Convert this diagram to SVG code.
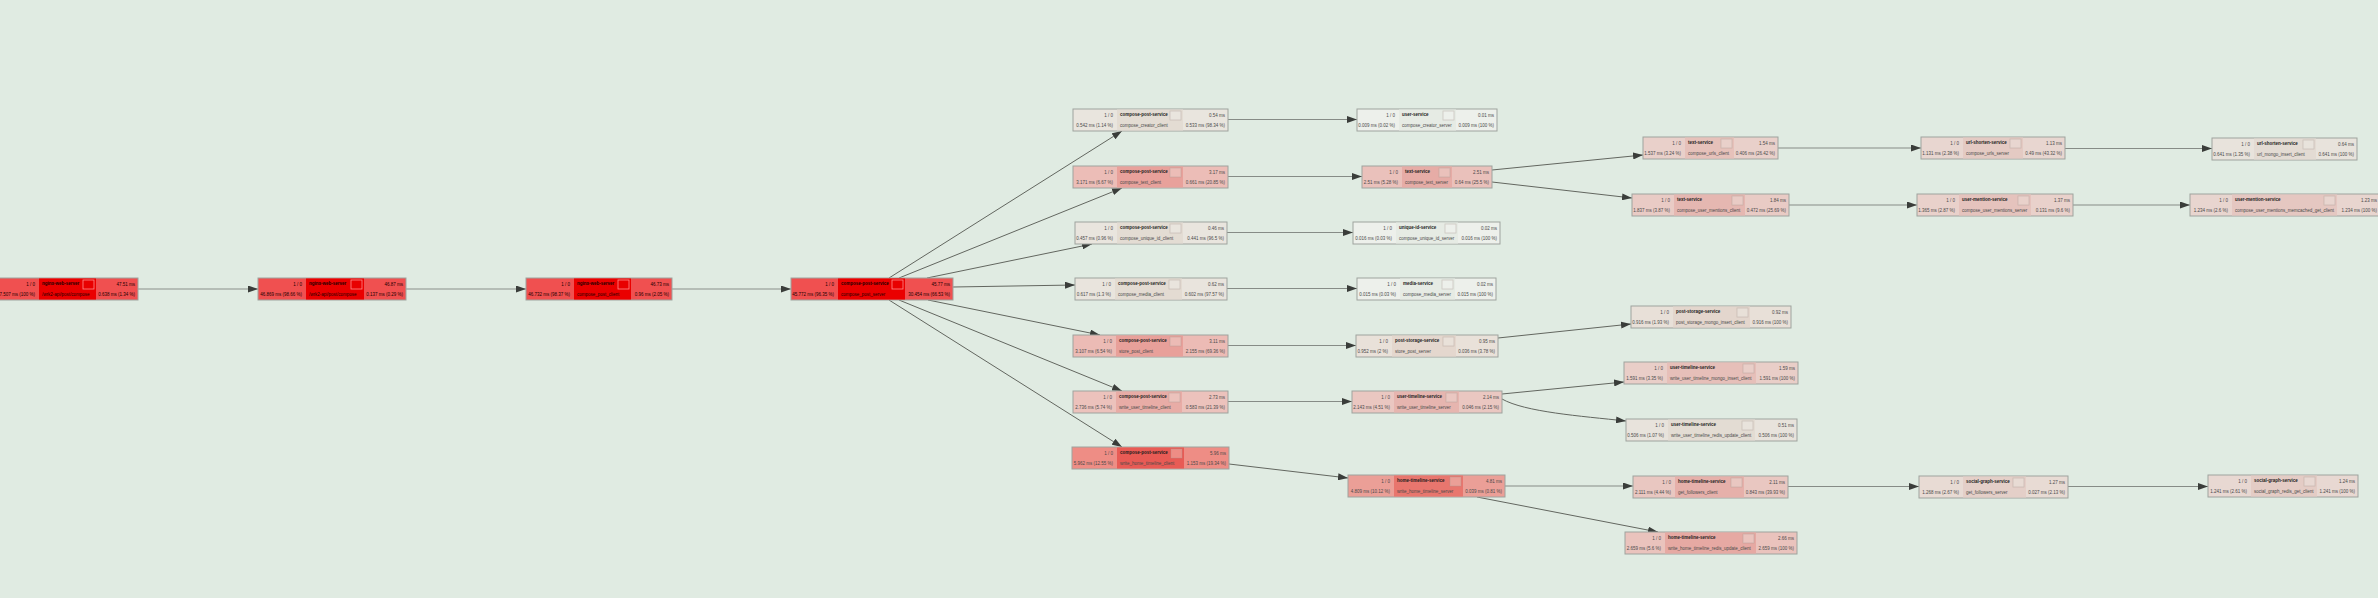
<svg xmlns="http://www.w3.org/2000/svg" width="2378" height="598" viewBox="0 0 2378 598">
<style>
text{font-family:"Liberation Sans",Arial,sans-serif;font-size:4.5px;fill:#4a4a4a}
.b{font-weight:bold;fill:#1c1c1c}
.e{text-anchor:end}
.red text{fill:#1a0000}
.box{stroke:#9ea39e;stroke-width:1}
.ic{stroke:#a89890;stroke-opacity:.45;stroke-width:.8}
.icr{fill:#e80000;stroke:#ff8a8a;stroke-width:.8}
.ed{fill:none;stroke:#62665f;stroke-width:1}
.hz{fill:none;stroke:#868b86;stroke-width:1.2}
.mn{fill:none;stroke:#a7aea7;stroke-width:1.6}
</style>
<defs>
<marker id="ar" markerUnits="userSpaceOnUse" markerWidth="10" markerHeight="7" refX="10" refY="3.5" orient="auto">
<path d="M0,0 L10,3.5 L0,7 z" fill="#3a3d3a"/>
</marker>
</defs>
<rect x="0" y="0" width="2378" height="598" fill="#e0ebe2"/>
<g id="connectors">
<path class="mn" marker-end="url(#ar)" d="M138,289 L258,289"/>
<path class="mn" marker-end="url(#ar)" d="M406,289 L526,289"/>
<path class="mn" marker-end="url(#ar)" d="M672,289 L791,289"/>
<path class="ed" marker-end="url(#ar)" d="M889,278 L1122,131"/>
<path class="ed" marker-end="url(#ar)" d="M899,278 L1122,188"/>
<path class="ed" marker-end="url(#ar)" d="M927,278 L1092,244"/>
<path class="ed" marker-end="url(#ar)" d="M953,287 L1075,285"/>
<path class="ed" marker-end="url(#ar)" d="M928,300 L1100,335"/>
<path class="ed" marker-end="url(#ar)" d="M899,300 L1122,391"/>
<path class="ed" marker-end="url(#ar)" d="M889,300 L1122,447"/>
<path class="hz" marker-end="url(#ar)" d="M1228,119.5 L1357,119.5"/>
<path class="hz" marker-end="url(#ar)" d="M1228,176.5 L1362,176.5"/>
<path class="hz" marker-end="url(#ar)" d="M1227,232.5 L1353,232.5"/>
<path class="hz" marker-end="url(#ar)" d="M1227,288.5 L1357,288.5"/>
<path class="hz" marker-end="url(#ar)" d="M1228,345.5 L1356,345.5"/>
<path class="hz" marker-end="url(#ar)" d="M1228,401.5 L1352,401.5"/>
<path class="ed" marker-end="url(#ar)" d="M1229,464 L1348,478"/>
<path class="ed" marker-end="url(#ar)" d="M1492,170 L1643,155"/>
<path class="ed" marker-end="url(#ar)" d="M1492,182 L1632,198"/>
<path class="hz" marker-end="url(#ar)" d="M1778,148 L1921,148"/>
<path class="hz" marker-end="url(#ar)" d="M1789,205 L1917,205"/>
<path class="hz" marker-end="url(#ar)" d="M2065,148.5 L2212,148.5"/>
<path class="hz" marker-end="url(#ar)" d="M2073,205 L2190,205"/>
<path class="ed" marker-end="url(#ar)" d="M1498,338 L1631,324"/>
<path class="ed" marker-end="url(#ar)" d="M1502,394 L1624,382"/>
<path class="ed" marker-end="url(#ar)" d="M1502,399 C1525,412 1580,416 1626,421"/>
<path class="hz" marker-end="url(#ar)" d="M1505,486 L1633,486"/>
<path class="ed" marker-end="url(#ar)" d="M1477,497 L1658,532"/>
<path class="hz" marker-end="url(#ar)" d="M1788,486.5 L1919,486.5"/>
<path class="hz" marker-end="url(#ar)" d="M2068,486.5 L2208,486.5"/>
</g>

<g id="n-nginx-1" class="red">
<rect class="box" x="-10" y="278" width="148" height="22" fill="#f05050"/>
<rect x="39" y="278.5" width="57" height="21" fill="#ea0000"/>
<rect class="icr" x="83" y="280" width="11" height="9"/>
<text class="e" x="35" y="286">1 / 0</text><text class="b" x="42" y="285.3">nginx-web-server</text><text class="e" x="135" y="286">47.51 ms</text>
<text class="e" x="35" y="296.2">47.507 ms (100 %)</text><text x="42" y="296.2">/wrk2-api/post/compose</text><text class="e" x="135" y="296.2">0.638 ms (1.34 %)</text>
</g>
<g id="n-nginx-2" class="red">
<rect class="box" x="258" y="278" width="148" height="22" fill="#f05050"/>
<rect x="306" y="278.5" width="58" height="21" fill="#ea0000"/>
<rect class="icr" x="351" y="280" width="11" height="9"/>
<text class="e" x="302" y="286">1 / 0</text><text class="b" x="309" y="285.3">nginx-web-server</text><text class="e" x="403" y="286">46.87 ms</text>
<text class="e" x="302" y="296.2">46.869 ms (98.66 %)</text><text x="309" y="296.2">/wrk2-api/post/compose</text><text class="e" x="403" y="296.2">0.137 ms (0.29 %)</text>
</g>
<g id="n-nginx-3" class="red">
<rect class="box" x="526" y="278" width="146" height="22" fill="#f05050"/>
<rect x="574" y="278.5" width="57" height="21" fill="#ea0000"/>
<rect class="icr" x="618" y="280" width="11" height="9"/>
<text class="e" x="570" y="286">1 / 0</text><text class="b" x="577" y="285.3">nginx-web-server</text><text class="e" x="669" y="286">46.73 ms</text>
<text class="e" x="570" y="296.2">46.732 ms (98.37 %)</text><text x="577" y="296.2">compose_post_client</text><text class="e" x="669" y="296.2">0.96 ms (2.05 %)</text>
</g>
<g id="n-cps-server" class="red">
<rect class="box" x="791" y="278" width="162" height="22" fill="#f05050"/>
<rect x="838" y="278.5" width="67" height="21" fill="#ea0000"/>
<rect class="icr" x="892" y="280" width="11" height="9"/>
<text class="e" x="834" y="286">1 / 0</text><text class="b" x="841" y="285.3">compose-post-service</text><text class="e" x="950" y="286">45.77 ms</text>
<text class="e" x="834" y="296.2">45.772 ms (96.35 %)</text><text x="841" y="296.2">compose_post_server</text><text class="e" x="950" y="296.2">30.454 ms (66.53 %)</text>
</g>

<g id="n-cps-creator">
<rect class="box" x="1073" y="109" width="155" height="22" fill="#e9e5de"/>
<rect x="1117" y="109.5" width="66" height="21" fill="#e3dcd3"/>
<rect class="ic" x="1170" y="111" width="11" height="9" fill="#e9e5de"/>
<text class="e" x="1113" y="117">1 / 0</text><text class="b" x="1120" y="116.3">compose-post-service</text><text class="e" x="1225" y="117">0.54 ms</text>
<text class="e" x="1113" y="127.2">0.542 ms (1.14 %)</text><text x="1120" y="127.2">compose_creator_client</text><text class="e" x="1225" y="127.2">0.533 ms (98.34 %)</text>
</g>
<g id="n-cps-text">
<rect class="box" x="1073" y="166" width="155" height="22" fill="#ecbdb7"/>
<rect x="1117" y="166.5" width="66" height="21" fill="#e8a19b"/>
<rect class="ic" x="1170" y="168" width="11" height="9" fill="#ecbdb7"/>
<text class="e" x="1113" y="174">1 / 0</text><text class="b" x="1120" y="173.3">compose-post-service</text><text class="e" x="1225" y="174">3.17 ms</text>
<text class="e" x="1113" y="184.2">3.171 ms (6.67 %)</text><text x="1120" y="184.2">compose_text_client</text><text class="e" x="1225" y="184.2">0.661 ms (20.85 %)</text>
</g>
<g id="n-cps-uid">
<rect class="box" x="1075" y="222" width="152" height="22" fill="#e9e5de"/>
<rect x="1117" y="222.5" width="66" height="21" fill="#e3dcd3"/>
<rect class="ic" x="1170" y="224" width="11" height="9" fill="#e9e5de"/>
<text class="e" x="1113" y="230">1 / 0</text><text class="b" x="1120" y="229.3">compose-post-service</text><text class="e" x="1224" y="230">0.46 ms</text>
<text class="e" x="1113" y="240.2">0.457 ms (0.96 %)</text><text x="1120" y="240.2">compose_unique_id_client</text><text class="e" x="1224" y="240.2">0.441 ms (96.5 %)</text>
</g>
<g id="n-cps-media">
<rect class="box" x="1075" y="278" width="152" height="22" fill="#e9e4dd"/>
<rect x="1115" y="278.5" width="67" height="21" fill="#e3dbd2"/>
<rect class="ic" x="1169" y="280" width="11" height="9" fill="#e9e4dd"/>
<text class="e" x="1111" y="286">1 / 0</text><text class="b" x="1118" y="285.3">compose-post-service</text><text class="e" x="1224" y="286">0.62 ms</text>
<text class="e" x="1111" y="296.2">0.617 ms (1.3 %)</text><text x="1118" y="296.2">compose_media_client</text><text class="e" x="1224" y="296.2">0.602 ms (97.57 %)</text>
</g>
<g id="n-cps-store">
<rect class="box" x="1073" y="335" width="155" height="22" fill="#ecbbb5"/>
<rect x="1116" y="335.5" width="67" height="21" fill="#e8a09a"/>
<rect class="ic" x="1170" y="337" width="11" height="9" fill="#ecbbb5"/>
<text class="e" x="1112" y="343">1 / 0</text><text class="b" x="1119" y="342.3">compose-post-service</text><text class="e" x="1225" y="343">3.11 ms</text>
<text class="e" x="1112" y="353.2">3.107 ms (6.54 %)</text><text x="1119" y="353.2">store_post_client</text><text class="e" x="1225" y="353.2">2.155 ms (69.36 %)</text>
</g>
<g id="n-cps-utl">
<rect class="box" x="1073" y="391" width="155" height="22" fill="#ecc2bc"/>
<rect x="1116" y="391.5" width="66" height="21" fill="#e8aca6"/>
<rect class="ic" x="1169" y="393" width="11" height="9" fill="#ecc2bc"/>
<text class="e" x="1112" y="399">1 / 0</text><text class="b" x="1119" y="398.3">compose-post-service</text><text class="e" x="1225" y="399">2.73 ms</text>
<text class="e" x="1112" y="409.2">2.736 ms (5.74 %)</text><text x="1119" y="409.2">write_user_timeline_client</text><text class="e" x="1225" y="409.2">0.583 ms (21.39 %)</text>
</g>
<g id="n-cps-htl">
<rect class="box" x="1072" y="447" width="157" height="22" fill="#ee8d85"/>
<rect x="1117" y="447.5" width="67" height="21" fill="#e85b55"/>
<rect class="ic" x="1171" y="449" width="11" height="9" fill="#ee8d85"/>
<text class="e" x="1113" y="455">1 / 0</text><text class="b" x="1120" y="454.3">compose-post-service</text><text class="e" x="1226" y="455">5.96 ms</text>
<text class="e" x="1113" y="465.2">5.962 ms (12.55 %)</text><text x="1120" y="465.2">write_home_timeline_client</text><text class="e" x="1226" y="465.2">1.153 ms (19.34 %)</text>
</g>

<g id="n-user">
<rect class="box" x="1357" y="109" width="140" height="22" fill="#edf0eb"/>
<rect x="1399" y="109.5" width="57" height="21" fill="#e6ebe4"/>
<rect class="ic" x="1443" y="111" width="11" height="9" fill="#edf0eb"/>
<text class="e" x="1395" y="117">1 / 0</text><text class="b" x="1402" y="116.3">user-service</text><text class="e" x="1494" y="117">0.01 ms</text>
<text class="e" x="1395" y="127.2">0.009 ms (0.02 %)</text><text x="1402" y="127.2">compose_creator_server</text><text class="e" x="1494" y="127.2">0.009 ms (100 %)</text>
</g>
<g id="n-text-server">
<rect class="box" x="1362" y="166" width="130" height="22" fill="#eac1bb"/>
<rect x="1402" y="166.5" width="50" height="21" fill="#e6aca6"/>
<rect class="ic" x="1439" y="168" width="11" height="9" fill="#eac1bb"/>
<text class="e" x="1398" y="174">1 / 0</text><text class="b" x="1405" y="173.3">text-service</text><text class="e" x="1489" y="174">2.51 ms</text>
<text class="e" x="1398" y="184.2">2.51 ms (5.28 %)</text><text x="1405" y="184.2">compose_text_server</text><text class="e" x="1489" y="184.2">0.64 ms (25.5 %)</text>
</g>
<g id="n-uid">
<rect class="box" x="1353" y="222" width="147" height="22" fill="#edf0eb"/>
<rect x="1396" y="222.5" width="62" height="21" fill="#e6ebe4"/>
<rect class="ic" x="1445" y="224" width="11" height="9" fill="#edf0eb"/>
<text class="e" x="1392" y="230">1 / 0</text><text class="b" x="1399" y="229.3">unique-id-service</text><text class="e" x="1497" y="230">0.02 ms</text>
<text class="e" x="1392" y="240.2">0.016 ms (0.03 %)</text><text x="1399" y="240.2">compose_unique_id_server</text><text class="e" x="1497" y="240.2">0.016 ms (100 %)</text>
</g>
<g id="n-media">
<rect class="box" x="1357" y="278" width="139" height="22" fill="#edf0eb"/>
<rect x="1400" y="278.5" width="55" height="21" fill="#e6ebe4"/>
<rect class="ic" x="1442" y="280" width="11" height="9" fill="#edf0eb"/>
<text class="e" x="1396" y="286">1 / 0</text><text class="b" x="1403" y="285.3">media-service</text><text class="e" x="1493" y="286">0.02 ms</text>
<text class="e" x="1396" y="296.2">0.015 ms (0.03 %)</text><text x="1403" y="296.2">compose_media_server</text><text class="e" x="1493" y="296.2">0.015 ms (100 %)</text>
</g>
<g id="n-ps-server">
<rect class="box" x="1356" y="335" width="142" height="22" fill="#e9e1d9"/>
<rect x="1392" y="335.5" width="64" height="21" fill="#e4d7ce"/>
<rect class="ic" x="1443" y="337" width="11" height="9" fill="#e9e1d9"/>
<text class="e" x="1388" y="343">1 / 0</text><text class="b" x="1395" y="342.3">post-storage-service</text><text class="e" x="1495" y="343">0.95 ms</text>
<text class="e" x="1388" y="353.2">0.952 ms (2 %)</text><text x="1395" y="353.2">store_post_server</text><text class="e" x="1495" y="353.2">0.036 ms (3.78 %)</text>
</g>
<g id="n-utl-server">
<rect class="box" x="1352" y="391" width="150" height="22" fill="#eac7c1"/>
<rect x="1394" y="391.5" width="65" height="21" fill="#e6b5af"/>
<rect class="ic" x="1446" y="393" width="11" height="9" fill="#eac7c1"/>
<text class="e" x="1390" y="399">1 / 0</text><text class="b" x="1397" y="398.3">user-timeline-service</text><text class="e" x="1499" y="399">2.14 ms</text>
<text class="e" x="1390" y="409.2">2.143 ms (4.51 %)</text><text x="1397" y="409.2">write_user_timeline_server</text><text class="e" x="1499" y="409.2">0.046 ms (2.15 %)</text>
</g>
<g id="n-htl-server">
<rect class="box" x="1348" y="475" width="157" height="22" fill="#eb9f97"/>
<rect x="1394" y="475.5" width="69" height="21" fill="#e8766e"/>
<rect class="ic" x="1450" y="477" width="11" height="9" fill="#eb9f97"/>
<text class="e" x="1390" y="483">1 / 0</text><text class="b" x="1397" y="482.3">home-timeline-service</text><text class="e" x="1502" y="483">4.81 ms</text>
<text class="e" x="1390" y="493.2">4.809 ms (10.12 %)</text><text x="1397" y="493.2">write_home_timeline_server</text><text class="e" x="1502" y="493.2">0.039 ms (0.81 %)</text>
</g>

<g id="n-text-urls">
<rect class="box" x="1643" y="137" width="135" height="22" fill="#e9d0ca"/>
<rect x="1685" y="137.5" width="49" height="21" fill="#e6c1ba"/>
<rect class="ic" x="1721" y="139" width="11" height="9" fill="#e9d0ca"/>
<text class="e" x="1681" y="145">1 / 0</text><text class="b" x="1688" y="144.3">text-service</text><text class="e" x="1775" y="145">1.54 ms</text>
<text class="e" x="1681" y="155.2">1.537 ms (3.24 %)</text><text x="1688" y="155.2">compose_urls_client</text><text class="e" x="1775" y="155.2">0.406 ms (26.42 %)</text>
</g>
<g id="n-text-um">
<rect class="box" x="1632" y="194" width="157" height="22" fill="#e9cbc5"/>
<rect x="1674" y="194.5" width="71" height="21" fill="#e5b7b1"/>
<rect class="ic" x="1732" y="196" width="11" height="9" fill="#e9cbc5"/>
<text class="e" x="1670" y="202">1 / 0</text><text class="b" x="1677" y="201.3">text-service</text><text class="e" x="1786" y="202">1.84 ms</text>
<text class="e" x="1670" y="212.2">1.837 ms (3.87 %)</text><text x="1677" y="212.2">compose_user_mentions_client</text><text class="e" x="1786" y="212.2">0.472 ms (25.69 %)</text>
</g>
<g id="n-ps-mongo">
<rect class="box" x="1631" y="306" width="160" height="22" fill="#e8e0d8"/>
<rect x="1673" y="306.5" width="77" height="21" fill="#e3d6cd"/>
<rect class="ic" x="1737" y="308" width="11" height="9" fill="#e8e0d8"/>
<text class="e" x="1669" y="314">1 / 0</text><text class="b" x="1676" y="313.3">post-storage-service</text><text class="e" x="1788" y="314">0.92 ms</text>
<text class="e" x="1669" y="324.2">0.916 ms (1.93 %)</text><text x="1676" y="324.2">post_storage_mongo_insert_client</text><text class="e" x="1788" y="324.2">0.916 ms (100 %)</text>
</g>
<g id="n-utl-mongo">
<rect class="box" x="1624" y="362" width="174" height="22" fill="#e9cec8"/>
<rect x="1667" y="362.5" width="89" height="21" fill="#e6bfb9"/>
<rect class="ic" x="1743" y="364" width="11" height="9" fill="#e9cec8"/>
<text class="e" x="1663" y="370">1 / 0</text><text class="b" x="1670" y="369.3">user-timeline-service</text><text class="e" x="1795" y="370">1.59 ms</text>
<text class="e" x="1663" y="380.2">1.591 ms (3.35 %)</text><text x="1670" y="380.2">write_user_timeline_mongo_insert_client</text><text class="e" x="1795" y="380.2">1.591 ms (100 %)</text>
</g>
<g id="n-utl-redis">
<rect class="box" x="1626" y="419" width="171" height="22" fill="#e8e3dc"/>
<rect x="1668" y="419.5" width="87" height="21" fill="#e3dcd3"/>
<rect class="ic" x="1742" y="421" width="11" height="9" fill="#e8e3dc"/>
<text class="e" x="1664" y="427">1 / 0</text><text class="b" x="1671" y="426.3">user-timeline-service</text><text class="e" x="1794" y="427">0.51 ms</text>
<text class="e" x="1664" y="437.2">0.506 ms (1.07 %)</text><text x="1671" y="437.2">write_user_timeline_redis_update_client</text><text class="e" x="1794" y="437.2">0.506 ms (100 %)</text>
</g>
<g id="n-htl-followers">
<rect class="box" x="1633" y="476" width="155" height="22" fill="#e9c7c1"/>
<rect x="1675" y="476.5" width="69" height="21" fill="#e6b0aa"/>
<rect class="ic" x="1731" y="478" width="11" height="9" fill="#e9c7c1"/>
<text class="e" x="1671" y="484">1 / 0</text><text class="b" x="1678" y="483.3">home-timeline-service</text><text class="e" x="1785" y="484">2.11 ms</text>
<text class="e" x="1671" y="494.2">2.111 ms (4.44 %)</text><text x="1678" y="494.2">get_followers_client</text><text class="e" x="1785" y="494.2">0.843 ms (39.93 %)</text>
</g>
<g id="n-htl-redis">
<rect class="box" x="1625" y="532" width="172" height="22" fill="#eac3bd"/>
<rect x="1665" y="532.5" width="91" height="21" fill="#e6a9a3"/>
<rect class="ic" x="1743" y="534" width="11" height="9" fill="#eac3bd"/>
<text class="e" x="1661" y="540">1 / 0</text><text class="b" x="1668" y="539.3">home-timeline-service</text><text class="e" x="1794" y="540">2.66 ms</text>
<text class="e" x="1661" y="550.2">2.659 ms (5.6 %)</text><text x="1668" y="550.2">write_home_timeline_redis_update_client</text><text class="e" x="1794" y="550.2">2.659 ms (100 %)</text>
</g>

<g id="n-url-server">
<rect class="box" x="1921" y="137" width="144" height="22" fill="#e8d6d0"/>
<rect x="1963" y="137.5" width="60" height="21" fill="#e4cac3"/>
<rect class="ic" x="2010" y="139" width="11" height="9" fill="#e8d6d0"/>
<text class="e" x="1959" y="145">1 / 0</text><text class="b" x="1966" y="144.3">url-shorten-service</text><text class="e" x="2062" y="145">1.13 ms</text>
<text class="e" x="1959" y="155.2">1.131 ms (2.38 %)</text><text x="1966" y="155.2">compose_urls_server</text><text class="e" x="2062" y="155.2">0.49 ms (43.32 %)</text>
</g>
<g id="n-um-server">
<rect class="box" x="1917" y="194" width="156" height="22" fill="#e9d1cb"/>
<rect x="1959" y="194.5" width="72" height="21" fill="#e5c3bd"/>
<rect class="ic" x="2018" y="196" width="11" height="9" fill="#e9d1cb"/>
<text class="e" x="1955" y="202">1 / 0</text><text class="b" x="1962" y="201.3">user-mention-service</text><text class="e" x="2070" y="202">1.37 ms</text>
<text class="e" x="1955" y="212.2">1.365 ms (2.87 %)</text><text x="1962" y="212.2">compose_user_mentions_server</text><text class="e" x="2070" y="212.2">0.131 ms (9.6 %)</text>
</g>
<g id="n-sg-server">
<rect class="box" x="1919" y="476" width="149" height="22" fill="#e8dbd4"/>
<rect x="1963" y="476.5" width="63" height="21" fill="#e4cfc8"/>
<rect class="ic" x="2013" y="478" width="11" height="9" fill="#e8dbd4"/>
<text class="e" x="1959" y="484">1 / 0</text><text class="b" x="1966" y="483.3">social-graph-service</text><text class="e" x="2065" y="484">1.27 ms</text>
<text class="e" x="1959" y="494.2">1.268 ms (2.67 %)</text><text x="1966" y="494.2">get_followers_server</text><text class="e" x="2065" y="494.2">0.027 ms (2.13 %)</text>
</g>

<g id="n-url-mongo">
<rect class="box" x="2212" y="138" width="145" height="22" fill="#e8e3dc"/>
<rect x="2254" y="138.5" width="62" height="21" fill="#e3dbd3"/>
<rect class="ic" x="2303" y="140" width="11" height="9" fill="#e8e3dc"/>
<text class="e" x="2250" y="146">1 / 0</text><text class="b" x="2257" y="145.3">url-shorten-service</text><text class="e" x="2354" y="146">0.64 ms</text>
<text class="e" x="2250" y="156.2">0.641 ms (1.35 %)</text><text x="2257" y="156.2">url_mongo_insert_client</text><text class="e" x="2354" y="156.2">0.641 ms (100 %)</text>
</g>
<g id="n-um-memcached">
<rect class="box" x="2190" y="194" width="190" height="22" fill="#e8d5cf"/>
<rect x="2232" y="194.5" width="105" height="21" fill="#e5c7c1"/>
<rect class="ic" x="2324" y="196" width="11" height="9" fill="#e8d5cf"/>
<text class="e" x="2228" y="202">1 / 0</text><text class="b" x="2235" y="201.3">user-mention-service</text><text class="e" x="2377" y="202">1.23 ms</text>
<text class="e" x="2228" y="212.2">1.234 ms (2.6 %)</text><text x="2235" y="212.2">compose_user_mentions_memcached_get_client</text><text class="e" x="2377" y="212.2">1.234 ms (100 %)</text>
</g>
<g id="n-sg-redis">
<rect class="box" x="2208" y="475" width="150" height="22" fill="#e8d8d2"/>
<rect x="2251" y="475.5" width="66" height="21" fill="#e4ccc5"/>
<rect class="ic" x="2304" y="477" width="11" height="9" fill="#e8d8d2"/>
<text class="e" x="2247" y="483">1 / 0</text><text class="b" x="2254" y="482.3">social-graph-service</text><text class="e" x="2355" y="483">1.24 ms</text>
<text class="e" x="2247" y="493.2">1.241 ms (2.61 %)</text><text x="2254" y="493.2">social_graph_redis_get_client</text><text class="e" x="2355" y="493.2">1.241 ms (100 %)</text>
</g>
</svg>
